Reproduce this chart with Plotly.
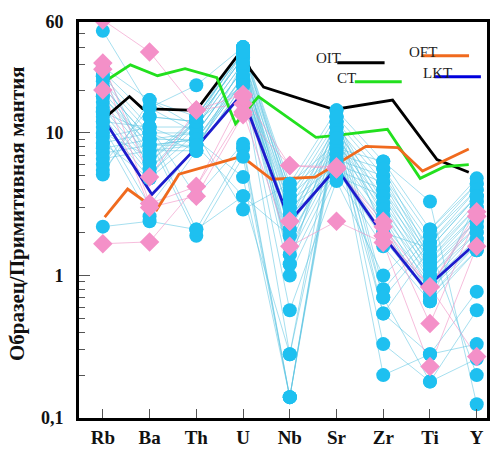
import plotly.graph_objects as go

elements = ["Rb", "Ba", "Th", "U", "Nb", "Sr", "Zr", "Ti", "Y"]
xpos = list(range(len(elements)))

# Samples (blue circles)
blue_samples = [
    [52, 15, 21.6, 40, 4.4, 14.4, 6.3, 2.1, 4.8],
    [29, 17, 13, 37, 4.0, 13, 5.6, 1.9, 4.4],
    [27, 13, 12, 34, 3.6, 12, 5.0, 1.7, 4.0],
    [25, 11, 11, 31, 3.3, 11, 4.5, 1.55, 3.6],
    [23, 10, 10, 28, 3.0, 10, 4.0, 1.4, 3.3],
    [21, 9, 9, 25, 2.7, 9.2, 3.6, 1.3, 3.0],
    [19.5, 8.2, 8.2, 23, 2.4, 8.5, 3.2, 1.2, 2.7],
    [18, 7.5, 7.5, 21.6, 2.1, 7.8, 2.9, 1.1, 2.4],
    [16.5, 6.8, 13, 37, 1.9, 7.1, 2.6, 1.0, 2.2],
    [15, 6.2, 12, 34, 1.6, 6.5, 2.3, 0.9, 2.0],
    [14, 5.6, 11, 31, 1.4, 6.0, 2.0, 0.8, 1.8],
    [13, 5.2, 10, 28, 1.2, 5.5, 1.8, 0.72, 1.65],
    [12, 4.8, 9, 25, 1.0, 5.0, 1.6, 0.66, 1.5],
    [11, 3.1, 8.2, 23, 0.57, 4.6, 1.0, 2.1, 4.4],
    [10, 2.6, 7.5, 21.6, 0.28, 14.4, 0.8, 1.9, 4.0],
    [9.3, 11, 3.6, 8.4, 0.14, 13, 0.7, 1.7, 3.6],
    [8.5, 10, 2.1, 7.8, 0.14, 12, 0.54, 0.28, 0.77],
    [7.8, 9, 1.9, 6.8, 0.14, 11, 0.33, 0.18, 0.57],
    [7.2, 8.2, 9, 4.9, 0.14, 10, 0.2, 0.28, 0.33],
    [6.6, 7.5, 8.2, 3.6, 0.28, 9.2, 0.7, 0.18, 0.26],
    [6.0, 15, 10, 2.9, 4.4, 8.5, 0.54, 1.55, 0.2],
    [5.5, 13, 12, 40, 4.0, 7.8, 6.3, 3.3, 0.125],
    [5.1, 17, 11, 37, 3.6, 7.1, 5.6, 1.4, 3.0],
    [2.2, 2.4, 2.1, 3.6, 1.9, 6.5, 5.0, 1.3, 2.7],
    [29, 6.2, 13, 40, 3.3, 6.0, 4.5, 1.2, 2.4],
    [25, 5.6, 12, 34, 3.0, 5.5, 4.0, 1.1, 2.2],
    [21, 9, 10, 28, 2.7, 5.0, 3.6, 1.0, 2.0],
    [18, 8.2, 9, 23, 2.4, 12, 3.2, 0.9, 1.8],
    [14, 10, 7.5, 31, 2.1, 11, 2.9, 0.8, 1.65],
    [12, 11, 8.2, 25, 1.6, 10, 2.6, 0.72, 1.5],
    [10, 6.8, 12, 21.6, 1.4, 9.2, 2.3, 0.66, 3.3],
    [8.5, 4.8, 13, 37, 1.2, 13, 2.0, 1.55, 3.6],
]

# Samples (pink diamonds)
pink_samples = [
    [62, 37, 14.5, 18.6, 5.9, 5.6, 1.9, 0.83, 2.8],
    [31, 4.9, 14.5, 16, 2.4, 5.6, 2.4, 0.46, 2.6],
    [28, 3.2, 4.2, 14, 1.6, 2.4, 1.7, 0.23, 1.6],
    [20, 3.0, 3.6, 13.4, 5.9, 5.8, 1.9, 0.83, 0.27],
    [1.67, 1.72, 4.2, 18, 2.4, 5.6, 2.2, 0.83, 2.6],
]

# Reference patterns (positions along element axis, values)
oit_x = [0, 0.57, 0.85, 2.0, 2.97, 3.15, 3.44, 4.95, 6.2, 7.15, 7.83]
oit_y = [12.4, 18, 14.8, 14.4, 38, 28, 21, 14.6, 17, 6.5, 5.3]
ct_x = [0, 0.59, 1.17, 1.76, 2.44, 2.84, 3.33, 4.56, 5.0, 6.09, 6.79, 7.31, 7.83]
ct_y = [22.5, 30, 25.2, 28.2, 24.4, 11.6, 18, 9.3, 9.6, 10.6, 4.8, 5.8, 6.0]
oft_x = [0.04, 0.53, 1.15, 1.63, 2.97, 3.61, 4.54, 5.63, 6.31, 6.84, 7.83]
oft_y = [2.57, 4.04, 2.88, 5.13, 6.85, 4.73, 4.89, 8.05, 7.9, 5.4, 7.7]
lkt_x = [0, 1.05, 1.97, 2.97, 4.0, 5.0, 6.1, 6.9, 7.85]
lkt_y = [12.8, 3.7, 7.7, 18.6, 2.4, 5.7, 1.72, 0.81, 1.54]

fig = go.Figure()

for s in blue_samples:
    fig.add_trace(go.Scatter(x=xpos, y=s, mode="lines",
                             line=dict(color="rgba(90,195,225,0.6)", width=0.9),
                             hoverinfo="skip", showlegend=False))
for s in pink_samples:
    fig.add_trace(go.Scatter(x=xpos, y=s, mode="lines",
                             line=dict(color="rgba(240,150,200,0.7)", width=0.9),
                             hoverinfo="skip", showlegend=False))

refs = [(oit_x, oit_y, "#000000"), (ct_x, ct_y, "#22e01e"),
        (oft_x, oft_y, "#f06a1e"), (lkt_x, lkt_y, "#1c1ccc")]
for rx, ry, col in refs:
    fig.add_trace(go.Scatter(x=rx, y=ry, mode="lines",
                             line=dict(color=col, width=2.8),
                             hoverinfo="skip", showlegend=False))

for s in blue_samples:
    fig.add_trace(go.Scatter(x=xpos, y=s, mode="markers",
                             marker=dict(symbol="circle", size=14, color="#1ec0f0"),
                             showlegend=False))
for s in pink_samples:
    fig.add_trace(go.Scatter(x=xpos, y=s, mode="markers",
                             marker=dict(symbol="diamond", size=15, color="#f490c8"),
                             showlegend=False))

# legend built from annotations + short lines
leg = [("OIT", 0.611, 0.910, 0.633, 0.749, 0.897, "#000000"),
       ("CT", 0.655, 0.859, 0.676, 0.791, 0.849, "#22e01e"),
       ("OFT", 0.842, 0.925, 0.839, 0.956, 0.915, "#f06a1e"),
       ("LKT", 0.878, 0.872, 0.871, 0.985, 0.862, "#0000dd")]
for txt, tx, ty, x0, x1, ly, col in leg:
    fig.add_annotation(x=tx, y=ty, xref="paper", yref="paper", text=txt,
                       showarrow=False, xanchor="center", yanchor="middle",
                       font=dict(family="Liberation Serif", size=15, color="#222"))
    fig.add_shape(type="line", xref="paper", yref="paper", x0=x0, x1=x1, y0=ly, y1=ly,
                  line=dict(color=col, width=3))

fig.add_annotation(x=0, y=0.5, xref="paper", yref="paper",
                   text="<b>Образец/Примитивная мантия</b>", textangle=-90,
                   showarrow=False, xanchor="center", yanchor="middle", xshift=-62, yshift=6,
                   font=dict(family="Liberation Serif", size=21, color="#111"))

minor_vals = [0.2, 0.3, 0.4, 0.5, 0.6, 0.7, 0.8, 0.9,
              2, 3, 4, 5, 6, 7, 8, 9, 20, 30, 40, 50]

fig.update_layout(
    width=492, height=450,
    margin=dict(l=79, r=2, t=22, b=30),
    paper_bgcolor="white", plot_bgcolor="white",
    showlegend=False,
    xaxis=dict(range=[-0.51, 8.22], tickvals=xpos, ticktext=["<b>%s</b>" % e for e in elements],
               ticks="inside", ticklen=9, tickwidth=1.2, tickcolor="#555",
               showgrid=False, zeroline=False, showline=True, linecolor="black",
               linewidth=3, mirror=True,
               tickfont=dict(family="Liberation Serif", size=19, color="#111")),
    yaxis=dict(type="log", range=[-1, 1.7782], tickvals=[0.1, 1, 10, 60],
               ticktext=["<b>0,1</b>", "<b>1</b>", "<b>10</b>", "<b>60</b>"],
               ticks="inside", ticklen=11, tickwidth=1.2, tickcolor="#555",
               minor=dict(tickvals=minor_vals, ticks="inside", ticklen=6,
                          tickcolor="#555", tickwidth=1, showgrid=False),
               showgrid=False, zeroline=False, showline=True, linecolor="black",
               linewidth=3, mirror=True, ticklabelstandoff=9,
               tickfont=dict(family="Liberation Serif", size=18, color="#111")),
)

fig.write_html("out.html")
